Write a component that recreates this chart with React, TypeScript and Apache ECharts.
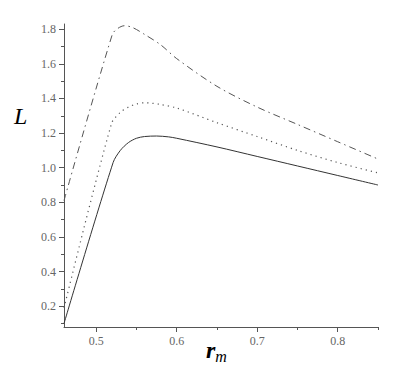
import React, { useEffect, useRef } from "react";
import * as echarts from "echarts";

const solidX = [0.46, 0.521, 0.53, 0.54, 0.55, 0.56, 0.575, 0.59, 0.6, 0.65, 0.7, 0.75, 0.8, 0.85];
const solidY = [0.1, 1.03, 1.1, 1.145, 1.17, 1.18, 1.183, 1.178, 1.17, 1.12, 1.065, 1.01, 0.955, 0.9];

const dottedX = [0.46, 0.519, 0.53, 0.54, 0.55, 0.56, 0.57, 0.58, 0.6, 0.65, 0.7, 0.75, 0.8, 0.85];
const dottedY = [0.19, 1.255, 1.32, 1.35, 1.368, 1.375, 1.372, 1.365, 1.345, 1.26, 1.18, 1.1, 1.03, 0.97];

const dashDotX = [0.46, 0.52, 0.527, 0.535, 0.545, 0.56, 0.58, 0.6, 0.65, 0.7, 0.75, 0.8, 0.85];
const dashDotY = [0.81, 1.77, 1.805, 1.82, 1.81, 1.77, 1.71, 1.63, 1.47, 1.35, 1.25, 1.15, 1.05];

const xMajor = [0.5, 0.6, 0.7, 0.8];
const xMinor = [0.55, 0.65, 0.75, 0.85];
const yMajor = [0.2, 0.4, 0.6, 0.8, 1.0, 1.2, 1.4, 1.6, 1.8];
const yMinor = [0.1, 0.3, 0.5, 0.7, 0.9, 1.1, 1.3, 1.5, 1.7];

const zip = (xs: number[], ys: number[]) => xs.map((x, i) => [x, ys[i]]);

const axisColor = "#555";
const font = "Liberation Serif";

export default function App() {
  const ref = useRef<HTMLDivElement>(null);
  useEffect(() => {
    if (!ref.current) return;
    const chart = echarts.init(ref.current, undefined, { renderer: "svg" });
    const xBase = { type: "value", min: 0.46, max: 0.85, splitLine: { show: false } };
    const yBase = { type: "value", min: 0.08, max: 1.83, splitLine: { show: false } };
    const labelStyle = {
      margin: 8,
      color: "#666",
      fontFamily: font,
      fontSize: 12,
      formatter: (v: number) => "{t|" + v.toFixed(1) + "}",
      rich: { t: { fontFamily: font, fontSize: 12, color: "#666" } },
    };
    chart.setOption({
      animation: false,
      backgroundColor: "#fff",
      textStyle: { fontFamily: font },
      grid: { left: 64, right: 19, top: 24, bottom: 43 },
      xAxis: [
        {
          ...xBase,
          axisLine: { lineStyle: { color: axisColor, width: 1 } },
          axisTick: { customValues: xMajor, length: 5, lineStyle: { color: axisColor } },
          axisLabel: { customValues: xMajor, ...labelStyle },
        },
        {
          ...xBase,
          position: "bottom",
          axisLine: { show: false },
          axisTick: { customValues: xMinor, length: 3, lineStyle: { color: axisColor } },
          axisLabel: { show: false },
        },
      ],
      yAxis: [
        {
          ...yBase,
          axisLine: { show: true, lineStyle: { color: axisColor, width: 1 } },
          axisTick: { show: true, customValues: yMajor, length: 5, lineStyle: { color: axisColor } },
          axisLabel: { customValues: yMajor, ...labelStyle },
        },
        {
          ...yBase,
          position: "left",
          axisLine: { show: false },
          axisTick: { show: true, customValues: yMinor, length: 3, lineStyle: { color: axisColor } },
          axisLabel: { show: false },
        },
      ],
      series: [
        {
          type: "line",
          data: zip(solidX, solidY),
          smooth: 0.3,
          showSymbol: false,
          lineStyle: { color: "#333", width: 1, type: "solid" },
        },
        {
          type: "line",
          data: zip(dottedX, dottedY),
          smooth: 0.3,
          showSymbol: false,
          lineStyle: { color: "#555", width: 1.2, type: [1.2, 4] },
        },
        {
          type: "line",
          data: zip(dashDotX, dashDotY),
          smooth: 0.3,
          showSymbol: false,
          lineStyle: { color: "#555", width: 1, type: [7, 4, 1.5, 4] },
        },
      ],
      graphic: [
        {
          type: "text",
          left: 14,
          top: 104,
          style: {
            text: "L",
            fontFamily: font,
            fontStyle: "italic",
            fontSize: 24,
            fill: "#000",
          },
        },
        {
          type: "text",
          left: 206,
          top: 338,
          style: {
            text: "{r|r}{m|m}",
            rich: {
              r: { fontFamily: font, fontStyle: "italic", fontWeight: "bold", fontSize: 24, fill: "#000" },
              m: { fontFamily: font, fontStyle: "italic", fontSize: 16, fill: "#000", padding: [12, 0, 0, 0] },
            },
          },
        },
      ],
    });
    return () => chart.dispose();
  }, []);
  return <div ref={ref} style={{ width: 397, height: 370, margin: -8 }} />;
}
